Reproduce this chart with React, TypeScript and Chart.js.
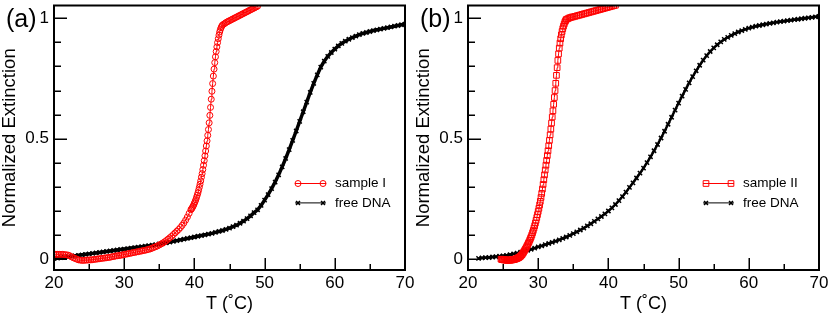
import React, { useEffect, useRef } from 'react';
import { Chart, registerables } from 'chart.js';
Chart.register(...registerables);

const FONT = "'Liberation Sans', Arial, Helvetica, sans-serif";

// axis ticks
const xTickLabels = [20, 30, 40, 50, 60, 70];
const xMinorTicks = [25, 35, 45, 55, 65];
const yTickLabels = [0, 0.5, 1];
const yMinorTicks = [0.1, 0.2, 0.3, 0.4, 0.6, 0.7, 0.8, 0.9];

// ---------- panel (a) ----------
const aFreeT = [
  20, 20.5, 21, 21.5, 22, 22.5, 23, 23.5, 24, 24.5,
  25, 25.5, 26, 26.5, 27, 27.5, 28, 28.5, 29, 29.5,
  30, 30.5, 31, 31.5, 32, 32.5, 33, 33.5, 34, 34.5,
  35, 35.5, 36, 36.5, 37, 37.5, 38, 38.5, 39, 39.5,
  40, 40.5, 41, 41.5, 42, 42.5, 43, 43.5, 44, 44.5,
  45, 45.5, 46, 46.5, 47, 47.5, 48, 48.5, 49, 49.5,
  50, 50.5, 51, 51.5, 52, 52.5, 53, 53.5, 54, 54.5,
  55, 55.5, 56, 56.5, 57, 57.5, 58, 58.5, 59, 59.5,
  60, 60.5, 61, 61.5, 62, 62.5, 63, 63.5, 64, 64.5,
  65, 65.5, 66, 66.5, 67, 67.5, 68, 68.5, 69, 69.5,
  70,
];
const aFreeV = [
  0.003, 0.004, 0.006, 0.008, 0.010, 0.012, 0.014, 0.016, 0.018, 0.020,
  0.022, 0.024, 0.026, 0.028, 0.030, 0.032, 0.034, 0.036, 0.038, 0.040,
  0.042, 0.044, 0.046, 0.048, 0.050, 0.052, 0.054, 0.056, 0.058, 0.060,
  0.063, 0.065, 0.068, 0.071, 0.074, 0.077, 0.080, 0.083, 0.086, 0.089,
  0.092, 0.095, 0.098, 0.101, 0.104, 0.107, 0.111, 0.115, 0.119, 0.124,
  0.129, 0.135, 0.141, 0.149, 0.158, 0.168, 0.180, 0.193, 0.205, 0.223,
  0.245, 0.268, 0.293, 0.320, 0.350, 0.383, 0.418, 0.455, 0.493, 0.532,
  0.572, 0.612, 0.652, 0.692, 0.730, 0.765, 0.797, 0.822, 0.842, 0.858,
  0.872, 0.885, 0.896, 0.905, 0.913, 0.920, 0.926, 0.932, 0.937, 0.941,
  0.945, 0.949, 0.952, 0.955, 0.958, 0.961, 0.964, 0.967, 0.970, 0.973,
  0.976,
];
const aSampleT = [
  20, 20.25, 20.5, 20.75, 21, 21.25, 21.5, 21.75, 22, 22.25,
  22.5, 22.75, 23, 23.25, 23.5, 23.75, 24, 24.25, 24.5, 24.75,
  25, 25.25, 25.5, 25.75, 26, 26.25, 26.5, 26.75, 27, 27.25,
  27.5, 27.75, 28, 28.25, 28.5, 28.75, 29, 29.25, 29.5, 29.75,
  30, 30.25, 30.5, 30.75, 31, 31.25, 31.5, 31.75, 32, 32.25,
  32.5, 32.75, 33, 33.25, 33.5, 33.75, 34, 34.25, 34.5, 34.75,
  35, 35.25, 35.5, 35.75, 36, 36.25, 36.5, 36.75, 37, 37.25,
  37.5, 37.75, 38, 38.25, 38.5, 38.75, 39, 39.25,
  39.5, 39.6, 39.7, 39.8, 39.9, 40.0, 40.1, 40.2, 40.3, 40.4,
  40.5, 40.6, 40.7, 40.8, 40.9, 41.0, 41.1, 41.2, 41.3, 41.4,
  41.5, 41.6, 41.7, 41.8, 41.9, 42.0, 42.1, 42.2, 42.3, 42.4,
  42.5, 42.6, 42.7, 42.8, 42.9, 43.0, 43.1, 43.2, 43.3, 43.4,
  43.5, 43.6, 43.7, 43.8, 43.9, 44.0,
  44.2, 44.4, 44.6, 44.8, 45, 45.2, 45.4, 45.6, 45.8, 46,
  46.2, 46.4, 46.6, 46.8, 47, 47.2, 47.4, 47.6, 47.8, 48,
  48.2, 48.4, 48.6, 48.8, 49,
];
const aSampleV = [
  0.020, 0.020, 0.020, 0.020, 0.020, 0.020, 0.019, 0.018, 0.017, 0.014,
  0.010, 0.006, 0.003, 0.000, -0.003, -0.004, -0.005, -0.005, -0.004, -0.004,
  -0.003, -0.003, -0.002, -0.001, 0.000, 0.001, 0.002, 0.003, 0.004, 0.005,
  0.006, 0.007, 0.008, 0.010, 0.011, 0.013, 0.014, 0.015, 0.016, 0.018,
  0.019, 0.021, 0.022, 0.024, 0.025, 0.027, 0.028, 0.030, 0.031, 0.033,
  0.034, 0.036, 0.037, 0.039, 0.041, 0.043, 0.046, 0.049, 0.052, 0.055,
  0.059, 0.063, 0.067, 0.072, 0.077, 0.083, 0.089, 0.095, 0.102, 0.109,
  0.116, 0.123, 0.131, 0.140, 0.150, 0.162, 0.175, 0.190,
  0.205, 0.209, 0.214, 0.219, 0.225, 0.232, 0.239, 0.247, 0.256, 0.265,
  0.275, 0.286, 0.298, 0.311, 0.325, 0.340, 0.355, 0.372, 0.390, 0.409,
  0.429, 0.449, 0.470, 0.491, 0.514, 0.538, 0.566, 0.597, 0.630, 0.664,
  0.697, 0.729, 0.760, 0.789, 0.816, 0.840, 0.862, 0.881, 0.899, 0.915,
  0.930, 0.943, 0.953, 0.961, 0.967, 0.972,
  0.976, 0.980, 0.984, 0.987, 0.990, 0.993, 0.996, 0.999, 1.002, 1.005,
  1.008, 1.011, 1.014, 1.017, 1.020, 1.023, 1.026, 1.029, 1.032, 1.035,
  1.038, 1.041, 1.044, 1.047, 1.050,
];

// ---------- panel (b) ----------
const bFreeT = [
  21.5, 22, 22.5, 23, 23.5, 24, 24.5,
  25, 25.5, 26, 26.5, 27, 27.5, 28, 28.5, 29, 29.5,
  30, 30.5, 31, 31.5, 32, 32.5, 33, 33.5, 34, 34.5,
  35, 35.5, 36, 36.5, 37, 37.5, 38, 38.5, 39, 39.5,
  40, 40.5, 41, 41.5, 42, 42.5, 43, 43.5, 44, 44.5,
  45, 45.5, 46, 46.5, 47, 47.5, 48, 48.5, 49, 49.5,
  50, 50.5, 51, 51.5, 52, 52.5, 53, 53.5, 54, 54.5,
  55, 55.5, 56, 56.5, 57, 57.5, 58, 58.5, 59, 59.5,
  60, 60.5, 61, 61.5, 62, 62.5, 63, 63.5, 64, 64.5,
  65, 65.5, 66, 66.5, 67, 67.5, 68, 68.5, 69, 69.5,
  70,
];
const bFreeV = [
  0.003, 0.005, 0.006, 0.007, 0.009, 0.010, 0.012,
  0.014, 0.016, 0.019, 0.022, 0.025, 0.029, 0.033, 0.037, 0.041, 0.046,
  0.051, 0.055, 0.060, 0.065, 0.070, 0.075, 0.080, 0.086, 0.092, 0.099,
  0.106, 0.113, 0.121, 0.129, 0.138, 0.147, 0.157, 0.167, 0.177, 0.188,
  0.200, 0.213, 0.227, 0.243, 0.260, 0.278, 0.298, 0.317, 0.337, 0.357,
  0.378, 0.401, 0.425, 0.450, 0.476, 0.503, 0.531, 0.560, 0.589, 0.619,
  0.648, 0.677, 0.705, 0.732, 0.758, 0.782, 0.805, 0.826, 0.845, 0.862,
  0.877, 0.890, 0.902, 0.912, 0.921, 0.929, 0.936, 0.943, 0.949, 0.954,
  0.959, 0.963, 0.967, 0.970, 0.973, 0.976, 0.979, 0.981, 0.984, 0.986,
  0.988, 0.990, 0.992, 0.994, 0.996, 0.998, 1.000, 1.002, 1.004, 1.006,
  1.008,
];
const bSampleT = [
  24.7, 24.8, 24.9, 25.0, 25.1, 25.2, 25.3, 25.4, 25.5, 25.6,
  25.7, 25.8, 25.9, 26.0, 26.1, 26.2, 26.3, 26.4, 26.5, 26.6,
  26.7, 26.8, 26.9, 27.0, 27.1, 27.2, 27.3, 27.4, 27.5, 27.6,
  27.7, 27.8, 27.9, 28.0, 28.1, 28.2, 28.3, 28.4, 28.5, 28.6,
  28.7, 28.8, 28.9, 29.0,
  29.1, 29.2, 29.3, 29.4, 29.5, 29.6, 29.7, 29.8, 29.9, 30.0,
  30.1, 30.2, 30.3, 30.4, 30.5, 30.6, 30.7, 30.8, 30.9, 31.0,
  31.1, 31.2, 31.3, 31.4, 31.5, 31.6, 31.7, 31.8, 31.9, 32.0,
  32.1, 32.2, 32.3, 32.4, 32.5, 32.6, 32.7, 32.8, 32.9, 33.0,
  33.1, 33.2, 33.3, 33.4, 33.5, 33.6, 33.7, 33.8, 33.9, 34.0,
  34.2, 34.4, 34.6, 34.8, 35, 35.25, 35.5, 35.75, 36, 36.25,
  36.5, 36.75, 37, 37.25, 37.5, 37.75, 38, 38.25, 38.5, 38.75,
  39, 39.25, 39.5, 39.75, 40, 40.25, 40.5, 40.75, 41,
];
const bSampleV = [
  0.000, -0.001, -0.002, -0.002, -0.003, -0.003, -0.003, -0.004, -0.004, -0.004,
  -0.004, -0.004, -0.004, -0.004, -0.004, -0.003, -0.003, -0.002, -0.002, -0.001,
  0.000, 0.001, 0.002, 0.003, 0.005, 0.006, 0.008, 0.010, 0.013, 0.016,
  0.019, 0.024, 0.028, 0.033, 0.038, 0.043, 0.048, 0.054, 0.060, 0.066,
  0.072, 0.079, 0.086, 0.093,
  0.101, 0.110, 0.119, 0.129, 0.139, 0.150, 0.161, 0.173, 0.185, 0.198,
  0.211, 0.225, 0.240, 0.256, 0.273, 0.291, 0.310, 0.330, 0.350, 0.370,
  0.390, 0.410, 0.430, 0.450, 0.471, 0.493, 0.516, 0.540, 0.565, 0.590,
  0.616, 0.643, 0.671, 0.700, 0.730, 0.763, 0.795, 0.825, 0.852, 0.876,
  0.897, 0.915, 0.931, 0.945, 0.957, 0.967, 0.976, 0.984, 0.990, 0.995,
  0.998, 1.001, 1.003, 1.005, 1.006, 1.008, 1.010, 1.012, 1.014, 1.016,
  1.018, 1.020, 1.022, 1.024, 1.026, 1.028, 1.030, 1.032, 1.034, 1.036,
  1.038, 1.040, 1.042, 1.044, 1.046, 1.048, 1.050, 1.052, 1.054,
];

const toXY = (t: number[], v: number[]) => t.map((x, i) => ({ x, y: v[i] }));

function drawMarker(ctx: CanvasRenderingContext2D, style: string, x: number, y: number, r: number) {
  ctx.beginPath();
  if (style === 'circle') {
    ctx.arc(x, y, r, 0, Math.PI * 2);
  } else if (style === 'rect') {
    const s = r * Math.SQRT1_2;
    ctx.rect(x - s, y - s, 2 * s, 2 * s);
  } else {
    const s = r * Math.SQRT1_2;
    ctx.moveTo(x - s, y - s); ctx.lineTo(x + s, y + s);
    ctx.moveTo(x - s, y + s); ctx.lineTo(x + s, y - s);
  }
  ctx.stroke();
}

const framePlugin = {
  id: 'frame',
  afterDatasetsDraw(chart: any, _args: any, opts: any) {
    const { ctx, chartArea: a, scales } = chart;
    const xs = scales.x, ys = scales.y;
    ctx.save();
    ctx.strokeStyle = '#000';
    ctx.lineWidth = 1.5;
    ctx.beginPath();
    xTickLabels.forEach((v) => {
      const p = Math.round(xs.getPixelForValue(v)) + 0.25;
      ctx.moveTo(p, a.bottom); ctx.lineTo(p, a.bottom - 12);
    });
    xMinorTicks.forEach((v) => {
      const p = Math.round(xs.getPixelForValue(v)) + 0.25;
      ctx.moveTo(p, a.bottom); ctx.lineTo(p, a.bottom - 6);
    });
    yTickLabels.forEach((v) => {
      const p = Math.round(ys.getPixelForValue(v)) + 0.25;
      ctx.moveTo(a.left, p); ctx.lineTo(a.left + 13, p);
    });
    yMinorTicks.forEach((v) => {
      const p = Math.round(ys.getPixelForValue(v)) + 0.25;
      ctx.moveTo(a.left, p); ctx.lineTo(a.left + 7, p);
    });
    ctx.stroke();
    ctx.lineWidth = 2;
    ctx.strokeRect(a.left, a.top, a.right - a.left, a.bottom - a.top);

    // panel letter
    ctx.fillStyle = '#000';
    ctx.font = `25px ${FONT}`;
    ctx.textAlign = 'left';
    ctx.textBaseline = 'alphabetic';
    ctx.fillText(opts.label, opts.labelX, opts.labelY);

    // legend
    ctx.font = `13.5px ${FONT}`;
    ctx.textBaseline = 'middle';
    chart.data.datasets.forEach((ds: any, i: number) => {
      const yy = opts.legendY + i * 19.4;
      const x0 = opts.legendX;
      ctx.strokeStyle = ds.borderColor;
      ctx.lineWidth = 1;
      ctx.beginPath();
      ctx.moveTo(x0, yy); ctx.lineTo(x0 + 31, yy);
      ctx.stroke();
      ctx.lineWidth = ds.pointBorderWidth;
      const r = ds.pointStyle === 'crossRot' ? 2.8 : ds.pointRadius;
      drawMarker(ctx, ds.pointStyle, x0 + 3, yy, r);
      drawMarker(ctx, ds.pointStyle, x0 + 28, yy, r);
      ctx.fillStyle = '#000';
      ctx.fillText(ds.label, x0 + 40, yy);
    });
    ctx.restore();
  },
};

function makeChart(canvas: HTMLCanvasElement, panel: any) {
  return new Chart(canvas, {
    type: 'line',
    data: {
      datasets: [
        {
          label: panel.sampleLabel,
          data: toXY(panel.sampleT, panel.sampleV),
          borderColor: '#ff0000',
          borderWidth: 1,
          pointStyle: panel.sampleStyle,
          pointRadius: panel.sampleStyle === 'rect' ? 4 : 3,
          pointBorderWidth: 1,
          pointBorderColor: '#ff0000',
          pointBackgroundColor: 'rgba(0,0,0,0)',
          tension: 0,
        },
        {
          label: 'free DNA',
          data: toXY(panel.freeT, panel.freeV),
          borderColor: '#000000',
          borderWidth: panel.freeWidth,
          pointStyle: 'crossRot',
          pointRadius: 3,
          pointBorderWidth: 1.5,
          pointBorderColor: '#000000',
          pointBackgroundColor: '#000000',
          tension: 0,
        },
      ],
    } as any,
    options: {
      animation: false,
      responsive: false,
      events: [],
      layout: { padding: { left: 0, right: 11, top: 3, bottom: 0 } },
      plugins: {
        legend: { display: false },
        tooltip: { enabled: false },
        frame: { label: panel.letter, labelX: 6, labelY: 26.5, legendX: panel.legendX, legendY: 183.5 },
      } as any,
      scales: {
        x: {
          type: 'linear',
          min: 20,
          max: 70,
          grid: { display: false, drawTicks: false },
          border: { display: false },
          afterBuildTicks: (s: any) => { s.ticks = xTickLabels.map((value) => ({ value })); },
          afterFit: (s: any) => { s.height = 48; s.paddingLeft = 0; s.paddingRight = 0; },
          ticks: {
            color: '#000',
            font: { family: FONT, size: 17 },
            padding: 3,
            maxRotation: 0,
            callback: (v: any) => String(v),
          },
          title: {
            display: true,
            text: 'T (˚C)',
            color: '#000',
            font: { family: FONT, size: 18 },
            padding: { top: 0, bottom: 3 },
          },
        },
        y: {
          type: 'linear',
          min: -0.045,
          max: 1.053,
          grid: { display: false, drawTicks: false },
          border: { display: false },
          afterBuildTicks: (s: any) => { s.ticks = yTickLabels.map((value) => ({ value })); },
          afterFit: (s: any) => { s.width = 54; s.paddingTop = 0; s.paddingBottom = 0; },
          ticks: {
            color: '#000',
            font: { family: FONT, size: 17 },
            padding: 5,
            callback: (v: any) => String(v),
          },
          title: {
            display: true,
            text: 'Normalized Extinction',
            color: '#000',
            font: { family: FONT, size: 18.5, lineHeight: 1.1 },
            padding: 0,
          },
        },
      },
    } as any,
    plugins: [framePlugin],
  });
}

const panelA = {
  letter: '(a)', sampleLabel: 'sample I', sampleStyle: 'circle',
  sampleT: aSampleT, sampleV: aSampleV, freeT: aFreeT, freeV: aFreeV,
  freeWidth: 3.5, legendX: 295,
};
const panelB = {
  letter: '(b)', sampleLabel: 'sample II', sampleStyle: 'rect',
  sampleT: bSampleT, sampleV: bSampleV, freeT: bFreeT, freeV: bFreeV,
  freeWidth: 2.5, legendX: 289,
};

export default function App() {
  const refA = useRef<HTMLCanvasElement>(null);
  const refB = useRef<HTMLCanvasElement>(null);
  useEffect(() => {
    const ca = makeChart(refA.current!, panelA);
    const cb = makeChart(refB.current!, panelB);
    return () => { ca.destroy(); cb.destroy(); };
  }, []);
  return (
    <div style={{ position: 'absolute', left: 0, top: 0, width: 830, height: 318, background: '#fff' }}>
      <canvas ref={refA} width={416} height={318}
        style={{ position: 'absolute', left: 0, top: 0, width: 416, height: 318 }} />
      <canvas ref={refB} width={416} height={318}
        style={{ position: 'absolute', left: 414, top: 0, width: 416, height: 318 }} />
    </div>
  );
}
